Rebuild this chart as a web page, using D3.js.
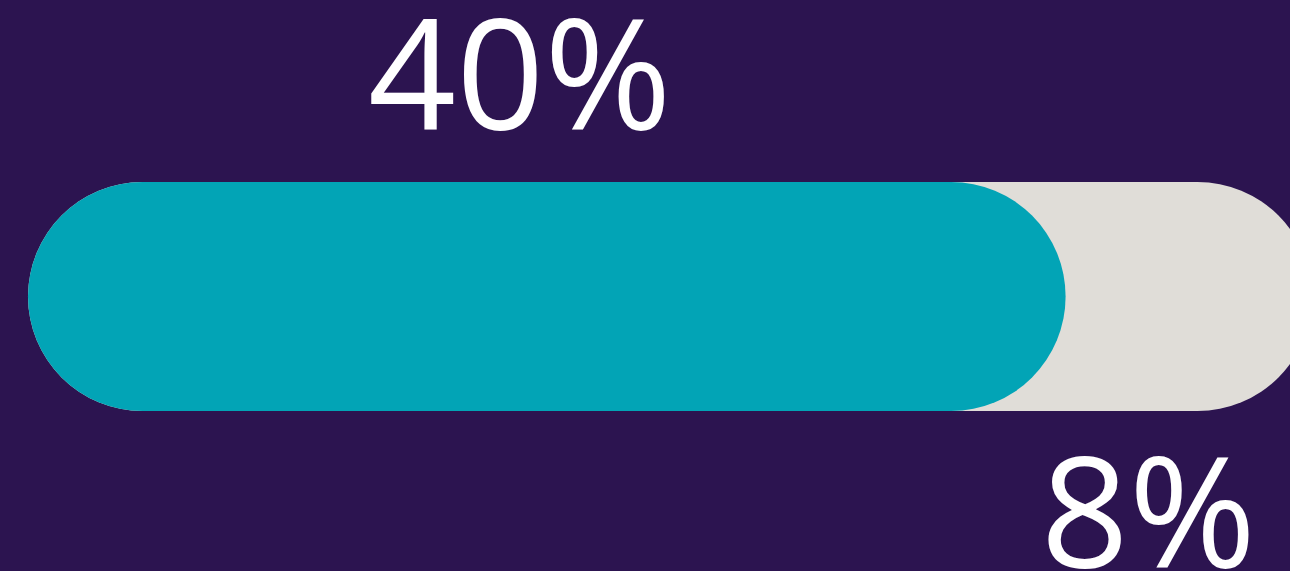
<!DOCTYPE html>
<html>
<head>
<meta charset="utf-8">
<script src="https://cdn.jsdelivr.net/npm/d3@7"></script>
<style>
  html, body { margin: 0; padding: 0; background: #2c1450; overflow: hidden; }
  svg { display: block; }
</style>
</head>
<body>
<svg id="chart" width="1290" height="571"></svg>
<script>
// Data
const categories = ["Filled", "Remainder"];
const values = [40, 8];
const labels = ["40%", "8%"];
const trackMax = [49.5];

const W = 1290, H = 571;
const svg = d3.select("#chart");
svg.append("rect").attr("width", W).attr("height", H).attr("fill", "#2c1450");

const x = d3.scaleLinear().domain([0, 50]).range([28, 1325]);
const y = d3.scaleBand().domain(["bar"]).range([182, 411]).padding(0);
const bh = y.bandwidth();
const r = bh / 2;

// grey track
svg.append("rect")
  .attr("x", x(0)).attr("y", y("bar"))
  .attr("width", x(trackMax[0]) - x(0)).attr("height", bh)
  .attr("rx", r).attr("ry", r)
  .attr("fill", "#e0ddd8");

// teal fill
svg.append("rect")
  .attr("x", x(0)).attr("y", y("bar"))
  .attr("width", x(values[0]) - x(0)).attr("height", bh)
  .attr("rx", r).attr("ry", r)
  .attr("fill", "#02a4b6");

const font = "'Open Sans', 'Segoe UI', sans-serif";
// 40% label above
svg.append("text")
  .attr("x", x(values[0] / 2) - 27)
  .attr("y", 130)
  .attr("text-anchor", "middle")
  .attr("font-family", font)
  .attr("font-size", 154)
  .attr("fill", "#ffffff")
  .text(labels[0]);

// 8% label below
svg.append("text")
  .attr("x", x(values[0] + values[1] / 2) - 21)
  .attr("y", 568)
  .attr("text-anchor", "middle")
  .attr("font-family", font)
  .attr("font-size", 154)
  .attr("fill", "#ffffff")
  .text(labels[1]);
</script>
</body>
</html>
